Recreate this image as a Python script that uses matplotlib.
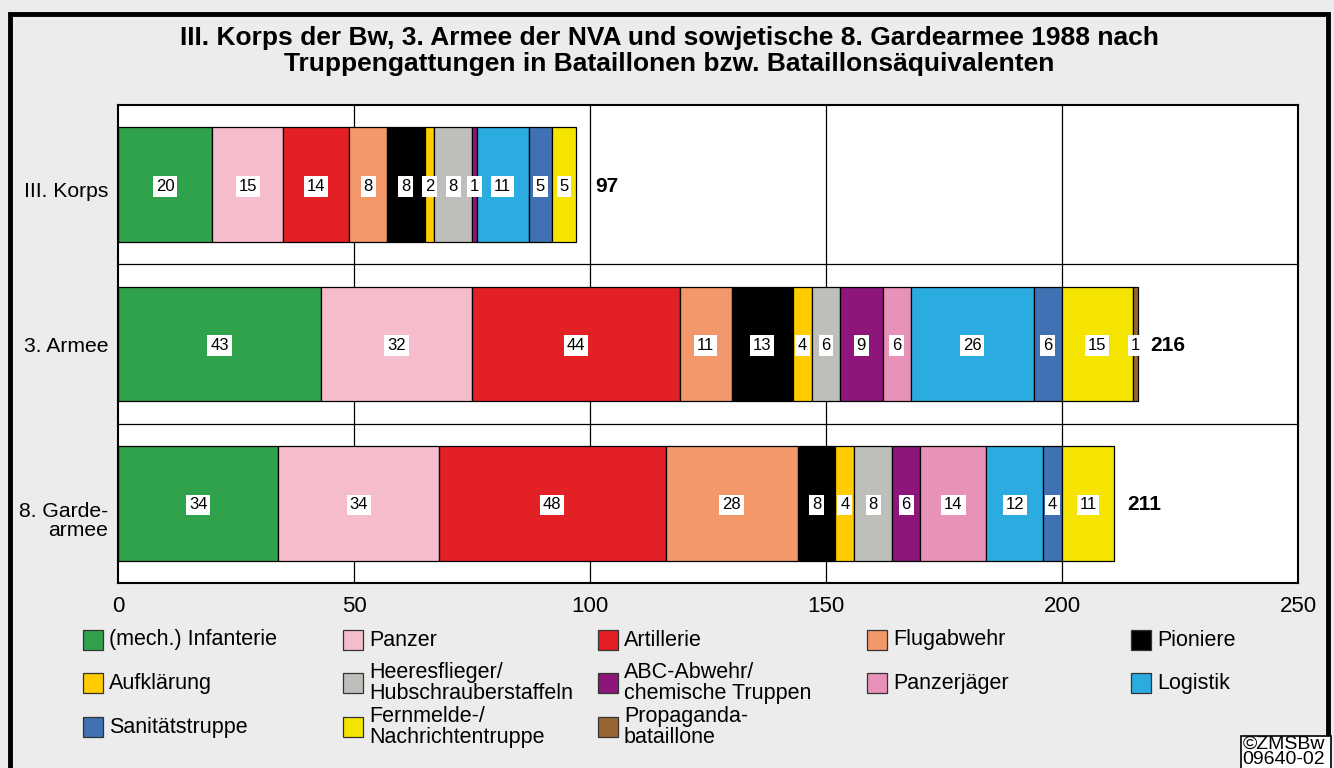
import matplotlib
matplotlib.use("Agg")
import matplotlib.pyplot as plt
from matplotlib.patches import Rectangle
from matplotlib.transforms import ScaledTranslation
import numpy as np

plt.rcParams['font.family'] = ['Liberation Sans', 'DejaVu Sans']

title = ("III. Korps der Bw, 3. Armee der NVA und sowjetische 8. Gardearmee 1988 nach\n"
         "Truppengattungen in Bataillonen bzw. Bataillonsäquivalenten")
groups = ["III. Korps", "3. Armee", "8. Garde-\narmee"]
branches = ["(mech.) Infanterie", "Panzer", "Artillerie", "Flugabwehr", "Pioniere",
            "Aufklärung", "Heeresflieger/\nHubschrauberstaffeln", "ABC-Abwehr/\nchemische Truppen",
            "Panzerjäger", "Logistik", "Sanitätstruppe", "Fernmelde-/\nNachrichtentruppe",
            "Propaganda-\nbataillone"]
korps3 = [20, 15, 14, 8, 8, 2, 8, 1, 0, 11, 5, 5, 0]
armee3 = [43, 32, 44, 11, 13, 4, 6, 9, 6, 26, 6, 15, 1]
garde8 = [34, 34, 48, 28, 8, 4, 8, 6, 14, 12, 4, 11, 0]
totals = [97, 216, 211]
colors = ["#31a24c", "#f5bdcb", "#e32026", "#f3986b", "#000000", "#ffcc00", "#bebebb",
          "#8e167b", "#e992b9", "#2aace0", "#3f71b4", "#f4e400", "#976634"]
xticks = [0, 50, 100, 150, 200, 250]

data = np.array([korps3, armee3, garde8])

W, H = 1334, 768
fig = plt.figure(figsize=(W / 100, H / 100), dpi=100)
fig.patch.set_facecolor("#ebeceb")

# outer frame
fig.add_artist(Rectangle((10 / W, -0.05), 1318 / W, 1.05 - 14 / H, transform=fig.transFigure,
                         fill=False, edgecolor="black", linewidth=3.5))

fig.text(669 / W, 1 - 51 / H, title, ha="center", va="center", fontsize=19,
         fontweight="bold", linespacing=1.08)

ax = fig.add_axes([118 / W, 1 - 583 / H, 1180 / W, 478 / H])
ax.set_facecolor("white")
ax.set_xlim(0, 250)
ax.set_ylim(2.5, -0.5)
ax.set_xticks(xticks)
ax.set_xticklabels([str(t) for t in xticks], fontsize=16)
ax.set_yticks(range(len(groups)))
ax.set_yticklabels(groups, fontsize=15.2, linespacing=0.98)
ax.tick_params(length=0)
ax.tick_params(axis="x", pad=9)
ax.tick_params(axis="y", pad=7)
shifts = [-5, 0, -16]
for lbl, dy in zip(ax.get_yticklabels(), shifts):
    lbl.set_transform(lbl.get_transform() + ScaledTranslation(0, dy / 100, fig.dpi_scale_trans))
for s in ax.spines.values():
    s.set_linewidth(1.5)
for t in xticks[1:-1]:
    ax.axvline(t, color="black", linewidth=0.9, zorder=0)
for yb in [0.5, 1.5]:
    ax.axhline(yb, color="black", linewidth=0.9, zorder=0)

for gi in range(len(groups)):
    left = 0
    for bi in range(len(branches)):
        v = data[gi, bi]
        if v == 0:
            continue
        ax.barh(gi, v, left=left, height=0.72, color=colors[bi], edgecolor="black",
                linewidth=0.9, zorder=2)
        ax.text(left + v / 2, gi + 0.01, str(v), ha="center", va="center", fontsize=12,
                zorder=3, bbox=dict(boxstyle="square,pad=0.17", facecolor="white",
                                    edgecolor="none"))
        left += v
    ax.text(totals[gi] + 6.5, gi + 0.01, str(totals[gi]), ha="center", va="center",
            fontsize=15, fontweight="bold")

# legend (row-major, 5 columns)
col_x = [83, 343, 598, 867, 1131]
row_y = [640, 683, 727]
for i, (lab, c) in enumerate(zip(branches, colors)):
    r, k = divmod(i, 5)
    x0, yc = col_x[k], row_y[r]
    fig.add_artist(Rectangle((x0 / W, 1 - (yc + 10) / H), 20 / W, 20 / H,
                             transform=fig.transFigure, facecolor=c, edgecolor="#333333",
                             linewidth=0.9))
    fig.text((x0 + 26) / W, 1 - yc / H, lab, ha="left", va="center", fontsize=15.5,
             linespacing=0.98)

# copyright box
fig.add_artist(Rectangle((1241 / W, -0.05), 90 / W, 0.05 + 1 - 736 / H,
                         transform=fig.transFigure, facecolor="white",
                         edgecolor="black", linewidth=1.2))
fig.text(1284 / W, 1 - 736 / H, "©ZMSBw\n09640-02", ha="center", va="top",
         fontsize=14, linespacing=0.85)

fig.savefig("out.png", dpi=100, facecolor=fig.get_facecolor())
